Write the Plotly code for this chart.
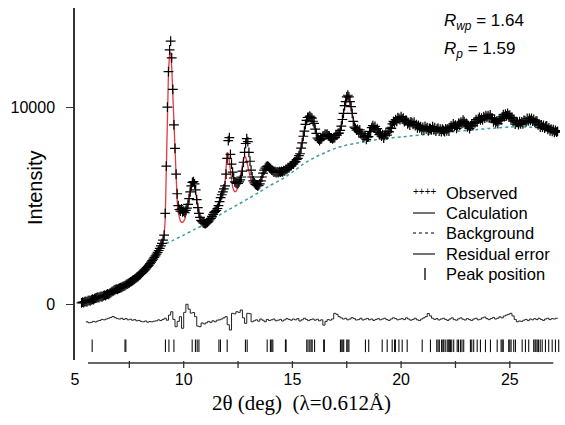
import numpy as np
import plotly.graph_objects as go

# ---------------- data ----------------
obs_start, obs_step = 5.30, 0.05          # 2theta grid of the measured profile
observed = [
    60, 95, 70, 120, 140, 115, 170, 185, 160, 215, 245, 225, 280, 300,
    320, 345, 330, 375, 390, 370, 420, 450, 430, 480, 510, 495, 545, 580, 630, 660, 700, 730, 760, 745,
    780, 805, 830, 850, 880, 915, 940, 985, 1010, 1050, 1080, 1125, 1150, 1195, 1230, 1270, 1315, 1360, 1400, 1455,
    1500, 1555, 1610, 1660, 1725, 1780, 1845, 1910, 1980, 2050, 2125, 2200, 2280, 2365, 2445, 2535, 2625, 2720, 2830, 2950,
    3080, 3250, 3500, 4600, 7000, 10000, 11800, 12900, 13350, 12500, 10900, 9100, 7900, 6600, 5600, 5000, 4800, 4720, 4830, 4680,
    4720, 4640, 4760, 4870, 5060, 5350, 5700, 6000, 6180, 6220, 6100, 5800, 5300, 4900, 4600, 4400, 4250, 4180, 4120, 4100,
    4080, 4120, 4150, 4210, 4280, 4350, 4450, 4550, 4650, 4700, 4760, 4850, 5000, 5200, 5400, 5550, 5700, 5850, 6000, 6600,
    7400, 8300, 8450, 7600, 7100, 6700, 6400, 6200, 6150, 6120, 6130, 6200, 6300, 6450, 6750, 7200, 7700, 8150, 8400, 8250,
    7700, 7250, 6800, 6450, 6250, 6150, 6080, 6040, 6000, 6030, 6100, 6250, 6450, 6650, 6800, 6900, 6970, 7000, 6980, 6930,
    6870, 6800, 6770, 6700, 6730, 6680, 6710, 6680, 6720, 6700, 6740, 6710, 6770, 6760, 6840, 6840, 6920, 6930, 7020, 7030,
    7120, 7110, 7200, 7230, 7340, 7400, 7540, 7630, 7920, 8180, 8520, 8780, 9120, 9330, 9470, 9480, 9540, 9480, 9440, 9280,
    9170, 8880, 8670, 8430, 8370, 8300, 8370, 8400, 8520, 8540, 8620, 8600, 8620, 8540, 8520, 8430, 8440, 8390, 8440, 8450,
    8570, 8580, 8670, 8680, 8820, 9030, 9370, 9680, 10070, 10280, 10520, 10600, 10520, 10280, 10020, 9680, 9270, 8980, 8920, 8830,
    8870, 8740, 8840, 8640, 8650, 8470, 8530, 8550, 8360, 8470, 8500, 8760, 8770, 8960, 9060, 8940, 9020, 8840, 8910, 8710,
    8600, 8680, 8530, 8600, 8430, 8570, 8660, 8580, 8770, 8740, 8930, 8920, 9150, 9270, 9210, 9360, 9280, 9460, 9420, 9370,
    9520, 9390, 9440, 9260, 9320, 9330, 9150, 9210, 9090, 9250, 9210, 9120, 9240, 9060, 9110, 8950, 9070, 8950, 9010, 8850,
    8970, 8850, 9020, 8890, 8960, 8790, 8920, 8900, 8840, 9010, 8860, 8950, 8780, 8880, 8930, 8780, 8880, 8760, 8880, 8810,
    8760, 8890, 8790, 8890, 8780, 8960, 9050, 8980, 9150, 9030, 9080, 8920, 9060, 9180, 9080, 9240, 9170, 9340, 9260, 9130,
    9170, 9000, 9060, 8910, 9040, 9150, 9060, 9230, 9200, 9360, 9250, 9390, 9480, 9350, 9440, 9350, 9520, 9440, 9570, 9480,
    9570, 9470, 9600, 9440, 9440, 9250, 9350, 9210, 9290, 9160, 9310, 9410, 9340, 9500, 9610, 9520, 9640, 9550, 9680, 9570,
    9590, 9410, 9480, 9290, 9330, 9130, 9220, 9240, 9110, 9260, 9150, 9250, 9150, 9320, 9310, 9250, 9420, 9300, 9420, 9320,
    9420, 9290, 9380, 9220, 9280, 9290, 9100, 9140, 8980, 9090, 8980, 9070, 8930, 9020, 9040, 8870, 8940, 8790, 8880, 8770,
    8850, 8720, 8810, 8730, 8770,
]
calculated = [
    80, 95, 110, 125, 140, 155, 170, 185, 200, 220, 240, 255, 275, 295,
    315, 335, 355, 375, 395, 415, 435, 455, 475, 495, 515, 540, 565, 600, 635, 670, 700, 730, 750, 760,
    780, 805, 830, 855, 880, 910, 940, 975, 1010, 1045, 1080, 1120, 1155, 1195, 1235, 1275, 1315, 1360, 1405, 1450,
    1500, 1555, 1605, 1660, 1720, 1780, 1845, 1910, 1980, 2050, 2125, 2200, 2280, 2360, 2445, 2530, 2620, 2720, 2825, 2940,
    3070, 3230, 3450, 4300, 6800, 9800, 11800, 12700, 12800, 12000, 10600, 9000, 7400, 6100, 5200, 4650, 4350, 4200, 4150, 4150,
    4200, 4300, 4500, 4800, 5150, 5550, 5900, 6150, 6250, 6200, 6000, 5650, 5200, 4800, 4500, 4300, 4180, 4100, 4060, 4050,
    4060, 4090, 4130, 4190, 4260, 4340, 4430, 4530, 4630, 4720, 4800, 4900, 5030, 5200, 5380, 5550, 5720, 5900, 6150, 6900,
    7700, 7650, 7200, 6700, 6250, 5950, 5780, 5700, 5720, 5800, 5950, 6150, 6400, 6700, 7050, 7350, 7480, 7450, 7250, 6950,
    6650, 6400, 6250, 6150, 6080, 6050, 6030, 6020, 6020, 6050, 6130, 6280, 6480, 6680, 6830, 6940, 7000, 7020, 6990, 6930,
    6860, 6800, 6750, 6720, 6700, 6690, 6690, 6690, 6700, 6710, 6720, 6735, 6755, 6785, 6820, 6860, 6900, 6950, 7000, 7050,
    7100, 7140, 7190, 7250, 7320, 7410, 7520, 7680, 7920, 8220, 8520, 8820, 9100, 9320, 9440, 9490, 9500, 9470, 9390, 9270,
    9100, 8870, 8630, 8450, 8350, 8320, 8350, 8420, 8500, 8560, 8590, 8600, 8580, 8540, 8490, 8450, 8420, 8410, 8420, 8470,
    8540, 8600, 8660, 8720, 8830, 9050, 9350, 9700, 10020, 10270, 10450, 10520, 10420, 10220, 9950, 9650, 9250, 9000, 8900, 8850,
    8800, 8780, 8750, 8700, 8620, 8550, 8480, 8450, 8430, 8450, 8550, 8680, 8800, 8900, 8950, 8980, 8950, 8900, 8820, 8730,
    8650, 8600, 8560, 8540, 8520, 8530, 8560, 8620, 8700, 8800, 8900, 9000, 9100, 9180, 9250, 9300, 9350, 9380, 9400, 9420,
    9430, 9420, 9380, 9330, 9280, 9230, 9200, 9180, 9170, 9180, 9190, 9180, 9150, 9100, 9060, 9020, 8990, 8970, 8950, 8940,
    8930, 8920, 8930, 8920, 8900, 8880, 8870, 8880, 8900, 8910, 8900, 8880, 8860, 8850, 8840, 8830, 8820, 8830, 8840, 8830,
    8820, 8810, 8820, 8840, 8870, 8920, 8980, 9030, 9060, 9050, 9020, 9000, 9030, 9080, 9140, 9200, 9240, 9260, 9240, 9180,
    9100, 9040, 9000, 8990, 9010, 9060, 9120, 9180, 9230, 9280, 9320, 9350, 9380, 9400, 9420, 9440, 9460, 9480, 9490, 9500,
    9510, 9520, 9510, 9470, 9400, 9330, 9280, 9250, 9240, 9250, 9280, 9330, 9400, 9460, 9510, 9550, 9580, 9600, 9610, 9590,
    9550, 9480, 9400, 9330, 9270, 9220, 9190, 9170, 9160, 9170, 9180, 9200, 9230, 9260, 9290, 9310, 9330, 9340, 9350, 9350,
    9340, 9330, 9320, 9290, 9250, 9200, 9150, 9100, 9060, 9030, 9010, 9000, 8990, 8970, 8940, 8910, 8880, 8860, 8840, 8820,
    8800, 8780, 8770, 8760, 8750,
]
res_start, res_step = 5.5, 0.1            # 2theta grid of the residual curve
residual = [
    -900, -950, -930, -880, -910,
    -860, -830, -780, -800, -760, -720, -680, -630, -690, -740,
    -760, -720, -780, -740, -800, -770, -820, -790, -850, -830,
    -880, -900, -860, -920, -890, -900, -870, -850, -800, -840,
    -780, -720, -820, -560, -390, -780, -1150, -880, -640, -1230,
    -420, -10, -260, -460, -430, -640, -1120, -1150, -960, -1010,
    -950, -880, -930, -850, -900, -820, -800, -760, -700, -640,
    -1050, -1320, -470, -500, -390, -420, -300, -700, -980, -470,
    -490, -900, -850, -800, -870, -760, -820, -900, -780, -840,
    -800, -760, -850, -820, -780, -860, -800, -740, -780, -820,
    -760, -800, -740, -860, -800, -720, -780, -840, -790, -760,
    -820, -770, -850, -800, -1070, -880, -790, -820, -760, -470,
    -520, -640, -700, -760, -720, -800, -760, -690, -740, -810,
    -790, -720, -810, -770, -730, -800, -760, -830, -780, -740,
    -800, -760, -720, -790, -830, -760, -700, -740, -800, -770,
    -740, -790, -700, -760, -820, -780, -720, -800, -840, -760,
    -700, -640, -480, -600, -720, -780, -740, -810, -760, -720,
    -780, -830, -760, -700, -790, -820, -750, -700, -770, -810,
    -740, -790, -830, -760, -720, -800, -770, -700, -660, -740,
    -790, -730, -680, -760, -720, -650, -700, -610, -560, -520,
    -470, -600, -780, -900, -860, -880, -820, -780, -840, -760,
    -800, -740, -790, -720, -780, -830, -760, -720, -790, -740,
    -760, -720, -730,
]
bg_2theta = [5.5, 6.0, 6.5, 7.0, 7.5, 8.0, 8.5, 9.0, 9.5, 10.0, 10.5, 11.0, 11.5, 12.0,
             12.5, 13.0, 13.5, 14.0, 14.5, 15.0, 15.5, 16.0, 16.5, 17.0, 17.5, 18.0, 18.5,
             19.0, 19.5, 20.0, 20.5, 21.0, 21.5, 22.0, 22.5, 23.0, 23.5, 24.0, 24.5, 25.0,
             25.5, 26.0, 26.5, 27.0, 27.2]
background = [150, 320, 520, 770, 1060, 1480, 2080, 2950, 3230, 3500, 3790, 4060, 4420, 4750,
              5060, 5370, 5700, 6030, 6330, 6700, 7100, 7430, 7690, 7920, 8070, 8180, 8270,
              8370, 8430, 8480, 8540, 8590, 8650, 8700, 8760, 8810, 8860, 8910, 8950, 8990,
              9000, 8980, 8910, 8810, 8770]
peak_positions = [5.79, 7.30, 7.34, 9.16, 9.32, 9.55, 10.39, 10.54, 10.62, 10.70, 11.62, 11.69,
                  12.00, 12.84, 12.92, 13.84, 13.99, 14.05, 14.10, 14.68, 14.71, 15.66, 15.72,
                  15.80, 15.86, 15.91, 16.02, 16.44, 16.47, 17.21, 17.27, 17.32, 17.36, 17.50,
                  17.55, 17.60, 18.36, 18.51, 19.13, 19.36, 19.59, 19.70, 19.74, 19.90, 20.05,
                  20.28, 20.97, 21.35, 21.64, 21.70, 21.76, 21.86, 21.92, 21.96, 22.03, 22.12,
                  22.17, 22.22, 22.27, 22.33, 22.42, 22.58, 22.64, 22.73, 22.80, 22.88, 23.19,
                  23.25, 23.34, 23.50, 23.65, 23.88, 24.11, 24.42, 24.60, 24.65, 24.70, 24.95,
                  25.00, 25.06, 25.18, 25.26, 25.57, 25.72, 25.87, 26.10, 26.16, 26.20, 26.26,
                  26.32, 26.40, 26.49, 26.64, 26.79, 26.95, 27.10, 27.25]
x_tick_vals = [5, 10, 15, 20, 25]
x_tick_text = ["5", "10", "15", "20", "25"]
x_minor_ticks = [7.5, 10, 12.5, 15, 17.5, 20, 22.5, 25]
y_tick_vals = [0, 10000]
y_tick_text = ["0", "10000"]

assert len(observed) == len(calculated), (len(observed), len(calculated))

# ---------------- figure ----------------
W, H = 565, 425
ML, MR, MT, MB = 75, 5, 8, 65
PW, PH = W - ML - MR, H - MT - MB
XMIN = 5.0
XMAX = XMIN + PW / 21.74
YMIN, YMAX = -2840, 15030
PEAK_LEVEL = -2120

obs_x = np.round(obs_start + obs_step * np.arange(len(observed)), 3)
res_x = np.round(res_start + res_step * np.arange(len(residual)), 3)

def px(xpix):
    return (xpix - ML) / PW

def py(ypix):
    return (MT + PH - ypix) / PH

def dx(theta):
    return (theta - XMIN) / (XMAX - XMIN)

SANS = "Arial, Liberation Sans, Helvetica, sans-serif"
SERIF = "Times New Roman, Liberation Serif, serif"

fig = go.Figure()
fig.add_trace(go.Scatter(x=bg_2theta, y=background, mode="lines",
                         line=dict(color="#3a9c98", width=1.5, dash="dot", shape="spline", smoothing=0.6),
                         hoverinfo="skip", showlegend=False))
fig.add_trace(go.Scatter(x=obs_x, y=calculated, mode="lines",
                         line=dict(color="#e23a44", width=1.3),
                         hoverinfo="skip", showlegend=False))
fig.add_trace(go.Scatter(x=obs_x, y=observed, mode="markers",
                         marker=dict(symbol="cross-thin", size=7, color="black",
                                     line=dict(color="black", width=1.2)),
                         hoverinfo="skip", showlegend=False))
fig.add_trace(go.Scatter(x=res_x, y=residual, mode="lines",
                         line=dict(color="#222", width=1.0, shape="hv"),
                         hoverinfo="skip", showlegend=False))
fig.add_trace(go.Scatter(x=peak_positions, y=[PEAK_LEVEL] * len(peak_positions), mode="markers",
                         marker=dict(symbol="line-ns", size=9, color="black",
                                     line=dict(color="#111", width=1.1)),
                         hoverinfo="skip", showlegend=False))

shapes = []
# detached x axis line and its ticks
shapes.append(dict(type="line", xref="paper", yref="paper", x0=dx(5.6), x1=dx(27.0),
                   y0=py(363), y1=py(363), line=dict(color="#333", width=1.5)))
for t in x_minor_ticks:
    shapes.append(dict(type="line", xref="paper", yref="paper", x0=dx(t), x1=dx(t),
                       y0=py(361), y1=py(368), line=dict(color="#333", width=1.3)))
# legend glyphs
shapes.append(dict(type="line", xref="paper", yref="paper", x0=px(413), x1=px(435),
                   y0=py(213), y1=py(213), line=dict(color="black", width=1.1)))
shapes.append(dict(type="line", xref="paper", yref="paper", x0=px(413), x1=px(435),
                   y0=py(233), y1=py(233), line=dict(color="black", width=1.1, dash="dot")))
shapes.append(dict(type="line", xref="paper", yref="paper", x0=px(413), x1=px(435),
                   y0=py(254), y1=py(254), line=dict(color="black", width=1.1)))
shapes.append(dict(type="line", xref="paper", yref="paper", x0=px(425), x1=px(425),
                   y0=py(268), y1=py(280), line=dict(color="black", width=1.3)))

ann = []
ann.append(dict(text="Intensity", x=px(35), y=py(188), xref="paper", yref="paper",
                textangle=-90, showarrow=False, xanchor="center", yanchor="middle",
                font=dict(family=SANS, size=20, color="black")))
ann.append(dict(text="2θ (deg)  (λ=0.612Å)", x=px(301), y=py(403), xref="paper", yref="paper",
                showarrow=False, xanchor="center", yanchor="middle",
                font=dict(family=SERIF, size=21, color="black")))
ann.append(dict(text="<i>R</i><sub><i>wp</i></sub> = 1.64", x=px(442), y=py(22), xref="paper",
                yref="paper", showarrow=False, xanchor="left", yanchor="middle",
                font=dict(family=SANS, size=17, color="black")))
ann.append(dict(text="<i>R</i><sub><i>p</i></sub> = 1.59", x=px(442), y=py(50), xref="paper",
                yref="paper", showarrow=False, xanchor="left", yanchor="middle",
                font=dict(family=SANS, size=17, color="black")))
for label, ypix in [("Observed", 193), ("Calculation", 213), ("Background", 233),
                    ("Residual error", 254), ("Peak position", 274)]:
    ann.append(dict(text=label, x=px(444), y=py(ypix), xref="paper", yref="paper",
                    showarrow=False, xanchor="left", yanchor="middle",
                    font=dict(family=SANS, size=16.5, color="black")))
ann.append(dict(text="++++", x=px(425), y=py(191), xref="paper", yref="paper",
                showarrow=False, xanchor="center", yanchor="middle",
                font=dict(family=SANS, size=10, color="black")))

fig.update_layout(
    width=W, height=H, margin=dict(l=ML, r=MR, t=MT, b=MB),
    paper_bgcolor="white", plot_bgcolor="white", showlegend=False,
    shapes=shapes, annotations=ann,
    xaxis=dict(range=[XMIN, XMAX], showgrid=False, zeroline=False, showline=False,
               tickvals=x_tick_vals, ticktext=x_tick_text, ticks="outside", ticklen=5,
               tickcolor="rgba(0,0,0,0)", tickfont=dict(family=SANS, size=16, color="black")),
    yaxis=dict(range=[YMIN, YMAX], showgrid=False, zeroline=False, showline=True,
               linecolor="#333", linewidth=1.5, tickvals=y_tick_vals, ticktext=y_tick_text,
               ticks="outside", ticklen=7, tickwidth=1.3, tickcolor="#333",
               ticklabelstandoff=8, tickfont=dict(family=SANS, size=16, color="black")),
)

fig.write_html("out.html")
